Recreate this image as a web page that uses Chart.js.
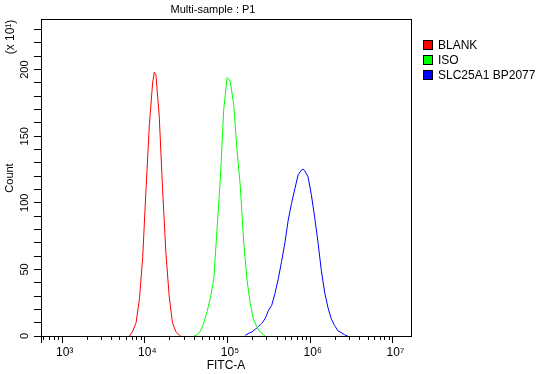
<!DOCTYPE html>
<html><head><meta charset="utf-8">
<script src="https://cdn.jsdelivr.net/npm/chart.js@4/dist/chart.umd.min.js"></script>
<style>html,body{margin:0;padding:0;background:#fff;}#wrap{width:549px;height:374px;}</style>
</head><body><div id="wrap"><canvas id="c" width="549" height="374"></canvas></div>
<script>
// ---- data (log10 of FITC-A bin, and event count / 10) ----
const seriesNames = ['BLANK', 'ISO', 'SLC25A1 BP2077'];
const seriesColors = ['#ff0000', '#00ff00', '#0000ff'];

const blankExp   = [3.82, 3.86, 3.90, 3.94, 3.98, 4.02, 4.06, 4.10, 4.12, 4.14, 4.18, 4.22, 4.26, 4.30, 4.34, 4.38, 4.42, 4.44];
const blankCount = [0,    3.8,  10,   27.5, 59,   110,  158,  190,  198,  196,  165,  111,  63,   30,   10,   3.4,  0.8,  0];

const isoExp   = [4.60, 4.64, 4.68, 4.72, 4.76, 4.80, 4.84, 4.88, 4.92, 4.96, 5.00, 5.02, 5.04, 5.08, 5.12, 5.16, 5.20, 5.24, 5.28, 5.32, 5.36, 5.40, 5.44, 5.46];
const isoCount = [0,    1,    4,    10,   18.5, 29,   43,   81,   119,  170,  194,  193,  191,  174,  140,  113,  72,   43,   24.5, 12.4, 7,    3,    1,    0];

const slcExp   = [5.22, 5.26, 5.30, 5.34, 5.38, 5.42, 5.46, 5.50, 5.54, 5.58, 5.62, 5.66, 5.70, 5.74, 5.78, 5.82, 5.86, 5.90, 5.92, 5.94, 5.98, 6.02, 6.06, 6.10, 6.14, 6.18, 6.22, 6.26, 6.30, 6.34, 6.38, 6.42, 6.46];
const slcCount = [0.5,  2,    3,    5,    7,    9.4,  13,   19,   23,   32,   43,   56,   70,   87,   99.5, 110.5,121,  124.6,125.3,124,  119.5,106,  89,   70.5, 49.4, 33,   21.5, 13,   8,    4,    2.6,  1,    0];

const xMinExp = 2.75, xMaxExp = 7.225;
const xDecades = [3, 4, 5, 6, 7];
const yMax = 238, yMinorStep = 10, yLabelStep = 50;

const titleText = 'Multi-sample : P1';
const xTitle = 'FITC-A';
const yTitle = 'Count';
const yMultiplier = '(x 10\u00B9)';

// ---- build ----
const FONT = "'Liberation Sans', Arial, sans-serif";
const sup = {'0':'\u2070','1':'\u00B9','2':'\u00B2','3':'\u00B3','4':'\u2074','5':'\u2075','6':'\u2076','7':'\u2077','8':'\u2078','9':'\u2079'};
function toPts(ex, cn) { return ex.map((e, i) => ({x: Math.pow(10, e), y: cn[i]})); }
const xTickValues = [];
for (let d = 2; d <= 7; d++) for (let m = 1; m <= 9; m++) {
  const v = m * Math.pow(10, d);
  if (v >= Math.pow(10, xMinExp) && v <= Math.pow(10, xMaxExp)) xTickValues.push(v);
}
function isDecade(v) { const l = Math.log10(v); return Math.abs(l - Math.round(l)) < 1e-9; }

const datasets = [[blankExp, blankCount], [isoExp, isoCount], [slcExp, slcCount]].map((s, i) => ({
  label: seriesNames[i], data: toPts(s[0], s[1]), borderColor: seriesColors[i], backgroundColor: seriesColors[i],
  borderWidth: 1, pointRadius: 0, tension: 0, fill: false
}));

const deco = {
  id: 'deco',
  afterDraw(chart) {
    const ctx = chart.ctx, a = chart.chartArea, xs = chart.scales.x;
    ctx.save();
    ctx.strokeStyle = '#000'; ctx.lineWidth = 1;
    ctx.strokeRect(Math.round(a.left) + 0.5, Math.round(a.top) + 0.5, Math.round(a.right - a.left), Math.round(a.bottom - a.top));
    // x tick marks
    ctx.beginPath();
    xs.ticks.forEach(t => {
      const px = Math.round(xs.getPixelForValue(t.value)) + 0.5;
      const len = isDecade(t.value) ? 7 : 4;
      ctx.moveTo(px, a.bottom); ctx.lineTo(px, a.bottom + len);
    });
    ctx.moveTo(Math.round(a.left) + 0.5, a.bottom); ctx.lineTo(Math.round(a.left) + 0.5, a.bottom + 7);
    ctx.stroke();
    ctx.fillStyle = '#000';
    // title
    ctx.font = '11px ' + FONT; ctx.textAlign = 'center'; ctx.textBaseline = 'middle';
    ctx.fillText(titleText, 213, 10);
    // x title
    ctx.font = '12px ' + FONT;
    ctx.fillText(xTitle, 226, 366);
    // y title & multiplier (rotated)
    ctx.save(); ctx.translate(10, 178); ctx.rotate(-Math.PI / 2);
    ctx.font = '11px ' + FONT; ctx.fillText(yTitle, 0, 0); ctx.restore();
    ctx.save(); ctx.translate(11, 37); ctx.rotate(-Math.PI / 2);
    ctx.font = '12px ' + FONT; ctx.fillText(yMultiplier, 0, 0); ctx.restore();
    // legend
    ctx.font = '12px ' + FONT; ctx.textAlign = 'left';
    seriesNames.forEach((n, i) => {
      const cy = 45 + i * 15;
      ctx.fillStyle = seriesColors[i];
      ctx.fillRect(423, cy - 5, 10, 10);
      ctx.strokeStyle = '#000'; ctx.strokeRect(423.5, cy - 4.5, 9, 9);
      ctx.fillStyle = '#000';
      ctx.fillText(n, 438, cy + 0.5);
    });
    ctx.restore();
  }
};

new Chart(document.getElementById('c'), {
  type: 'line',
  data: { datasets },
  plugins: [deco],
  options: {
    responsive: false, animation: false, devicePixelRatio: 1,
    layout: { padding: { top: 19, right: 138, left: 0, bottom: 0 } },
    plugins: { legend: { display: false }, title: { display: false }, tooltip: { enabled: false } },
    scales: {
      x: {
        type: 'logarithmic', min: Math.pow(10, xMinExp), max: Math.pow(10, xMaxExp),
        afterBuildTicks: s => { s.ticks = xTickValues.map(v => ({ value: v, major: false })); },
        afterFit: s => { s.height = 38; },
        ticks: {
          autoSkip: false, minRotation: 0, maxRotation: 0, padding: 2, labelOffset: 3, color: '#000',
          font: { family: FONT, size: 12 },
          callback: v => isDecade(v) ? '10' + String(Math.round(Math.log10(v))).split('').map(c => sup[c]).join('') : ''
        },
        grid: { display: false, drawTicks: true, tickLength: 7 },
        border: { display: false }
      },
      y: {
        type: 'linear', min: 0, max: yMax,
        afterFit: s => { s.width = 41; },
        ticks: {
          stepSize: yMinorStep, includeBounds: false, autoSkip: false, minRotation: 90, maxRotation: 90,
          crossAlign: 'center', padding: 0, color: '#000', font: { family: FONT, size: 11 },
          callback: v => (v % yLabelStep === 0 ? String(v) : '')
        },
        grid: { drawOnChartArea: false, drawTicks: true, tickLength: 7, color: '#000' },
        border: { display: false }
      }
    }
  }
});
</script></body></html>
